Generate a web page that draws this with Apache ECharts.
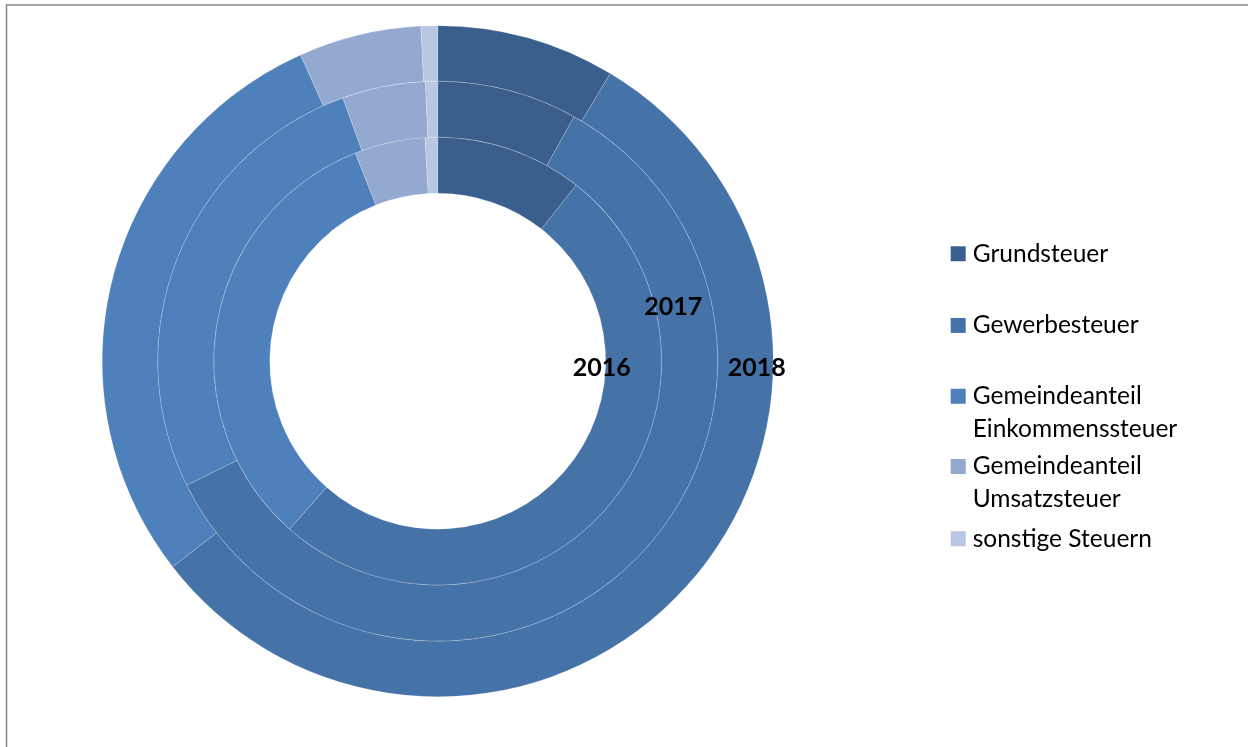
<!DOCTYPE html>
<html>
<head>
<meta charset="utf-8">
<script src="https://cdn.jsdelivr.net/npm/echarts@6/dist/echarts.min.js"></script>
<style>
html,body{margin:0;padding:0;background:#fff;}
#chart{width:1248px;height:747px;}
</style>
</head>
<body>
<div id="chart"></div>
<script>
// ---- data ----
var categories = ['Grundsteuer', 'Gewerbesteuer', 'Gemeindeanteil\nEinkommenssteuer', 'Gemeindeanteil\nUmsatzsteuer', 'sonstige Steuern'];
var years = ['2016', '2017', '2018'];
var values2016 = [10.6, 50.9, 32.5, 5.1, 0.9];
var values2017 = [8.1, 59.6, 26.8, 4.8, 0.7];
var values2018 = [8.6, 55.9, 28.8, 5.9, 0.8];
var colors = ['#3A5F8C', '#4572A7', '#4E80BC', '#94A9CF', '#B9C7E3'];

var valueSets = [values2016, values2017, values2018];
var radii = [[168, 224], [224, 280], [280, 335.5]];
var cx = 437.7, cy = 361.2;

function buildData(vals) {
  return vals.map(function (v, i) {
    return { name: categories[i], value: v, itemStyle: { color: colors[i] } };
  });
}

var series = valueSets.map(function (vals, k) {
  return {
    name: years[k],
    type: 'pie',
    center: [cx, cy],
    radius: radii[k],
    startAngle: 90,
    clockwise: true,
    avoidLabelOverlap: false,
    silent: true,
    z: 2,
    label: { show: false },
    labelLine: { show: false },
    itemStyle: { borderColor: 'rgba(255,255,255,0.3)', borderWidth: 0.6 },
    data: buildData(vals)
  };
});

var squarePath = 'path://M0,0L15,0L15,15L0,15Z';
var tallPath = 'path://M0,0L15,0L15,15L0,15Z M0,47L0,47.5L0.01,47.5Z';
var legendTops = [237.5, 309.2, 380, 450.2, 522.5];
var legends = categories.map(function (c, i) {
  var twoLine = c.indexOf('\n') >= 0;
  return {
    data: [c],
    left: 950.7,
    top: legendTops[i],
    padding: 0,
    orient: 'vertical',
    selectedMode: false,
    icon: twoLine ? tallPath : squarePath,
    itemWidth: 15,
    itemHeight: twoLine ? 47.5 : 15,
    itemGap: 0,
    itemStyle: { borderWidth: 0 },
    textStyle: { fontFamily: 'Lato', fontSize: 24.5, color: '#000', lineHeight: 32.5, padding: [0, 0, 0, 2] }
  };
});

var labelPos = [[601.7, 368.3], [673.3, 307.3], [756.7, 368.3]];
var graphics = years.map(function (y, k) {
  return {
    type: 'text',
    x: labelPos[k][0],
    y: labelPos[k][1],
    z: 100,
    zlevel: 1,
    silent: true,
    style: { text: y, fill: '#000', font: 'bold 25px Lato', align: 'center', verticalAlign: 'middle' }
  };
});
graphics.unshift({
  type: 'rect',
  shape: { x: 6.5, y: 5, width: 1400, height: 900 },
  style: { fill: 'none', stroke: '#898989', lineWidth: 1.5 },
  silent: true
});

var chart = echarts.init(document.getElementById('chart'), null, { renderer: 'canvas' });
chart.setOption({
  animation: false,
  backgroundColor: '#ffffff',
  legend: legends,
  graphic: graphics,
  series: series
});
</script>
</body>
</html>
